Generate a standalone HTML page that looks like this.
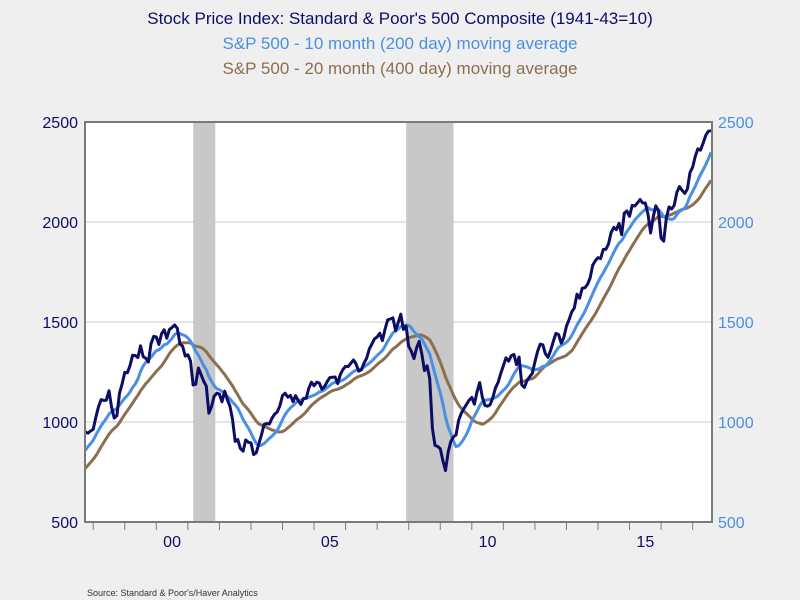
<!DOCTYPE html>
<html><head><meta charset="utf-8"><style>
body{margin:0;background:#efefef;}
svg{display:block;font-family:"Liberation Sans",sans-serif;}
</style></head><body>
<svg id="chart" width="800" height="600">
<rect width="800" height="600" fill="#efefef"/>
<text x="400" y="24" text-anchor="middle" font-size="17" fill="#0d0d66">Stock Price Index: Standard &amp; Poor's 500 Composite  (1941-43=10)</text>
<text x="400" y="49" text-anchor="middle" font-size="17" fill="#4a90e2">S&amp;P 500 - 10 month (200 day) moving average</text>
<text x="400" y="74" text-anchor="middle" font-size="17" fill="#8b6f4e">S&amp;P 500 - 20 month (400 day) moving average</text>
<rect x="85" y="122" width="627" height="400" fill="#fff"/>
<g id="rec"></g><g id="grid"></g><g id="lines"></g><g id="axes"></g>
<rect x="85" y="122" width="627" height="400" fill="none" stroke="#7a7a7a" stroke-width="2"/>
<text x="87" y="596" font-size="9" fill="#333">Source:  Standard &amp; Poor's/Haver Analytics</text>
</svg>
<script>
// monthly S&P 500 averages, starting Mar 1996 (first 19 months are history for the moving averages)
const startYear = 1996, startMonth = 2;
const prices = [646,647,661,669,640,652,674,702,738,744,
766,798,793,774,829,885,926,928,937,950,944,955,
963,1023,1076,1112,1108,1109,1156,1074,1020,1032,1144,1190,
1248,1246,1282,1334,1332,1322,1381,1327,1318,1300,1391,1428,
1425,1388,1442,1461,1419,1462,1473,1485,1468,1390,1379,1330,
1336,1305,1185,1189,1270,1238,1205,1179,1044,1077,1129,1144,
1140,1101,1154,1112,1080,1014,903,912,867,854,910,899,
895,837,846,890,936,988,992,990,1019,1039,1050,1081,
1132,1144,1124,1133,1102,1132,1106,1088,1118,1118,1169,1199,
1181,1199,1195,1164,1178,1202,1222,1224,1225,1192,1237,1263,
1278,1277,1294,1310,1290,1254,1261,1294,1318,1365,1390,1416,
1425,1444,1407,1463,1511,1515,1521,1457,1497,1539,1463,1479,
1378,1354,1317,1371,1403,1341,1257,1281,1217,968,883,878,
866,806,757,848,902,926,935,1010,1044,1067,1088,1110,
1123,1089,1152,1197,1125,1083,1079,1087,1122,1171,1198,1242,
1282,1321,1304,1331,1338,1287,1325,1185,1173,1207,1226,1243,
1300,1352,1389,1386,1341,1323,1359,1403,1443,1437,1394,1422,
1480,1512,1550,1570,1639,1619,1669,1671,1688,1720,1784,1807,
1822,1817,1863,1864,1890,1947,1973,1962,1993,1937,2044,2055,
2028,2083,2080,2095,2112,2095,2095,2039,1945,2025,2081,2054,
1919,1904,2022,2075,2065,2083,2149,2177,2158,2143,2165,2247,
2275,2329,2366,2359,2395,2434,2454,2456];
const plotStart = 19;
const yTicks = [500,1000,1500,2000,2500];
const gridVals = [1000,1500,2000];
const yearLabels = ["00","05","10","15"];
const yearLabelYears = [2000,2005,2010,2015];
const recessions = [[2001.17,2001.87],[2007.92,2009.42]];

const NS="http://www.w3.org/2000/svg";
const X=t=>156.3+(t-2000)*31.55;
const Y=v=>522-(v-500)/2000*400;
function mk(tag,attrs,parent,text){const e=document.createElementNS(NS,tag);for(const k in attrs)e.setAttribute(k,attrs[k]);if(text!==undefined)e.textContent=text;document.getElementById(parent).appendChild(e);return e;}
const tOf=i=>startYear+(startMonth+i)/12;

recessions.forEach(r=>{
 const e=mk('rect',{x:X(r[0]),y:122,width:X(r[1])-X(r[0]),height:400,fill:'#c8c8c8'},'rec');
 
 
});
gridVals.forEach(v=>{
 const e=mk('line',{x1:85,x2:712,y1:Y(v),y2:Y(v),stroke:'#c8c8c8','stroke-width':1},'grid');
 
 
});
function ma(n,i){let s=0;for(let k=i-n+1;k<=i;k++)s+=prices[k];return s/n;}
function path(fn,color,name,w){
 let d='';for(let i=plotStart;i<prices.length;i++){d+=(i===plotStart?'M':'L')+X(tOf(i)).toFixed(1)+','+Y(fn(i)).toFixed(1);}
 const e=mk('path',{d:d,fill:'none',stroke:color,'stroke-width':w,'stroke-linejoin':'round'},'lines');
 
 
}
path(i=>ma(20,i),'#8b6f4e','line-20-month-ma',3);
path(i=>ma(10,i),'#4a90e2','line-10-month-ma',3);
path(i=>prices[i],'#0d0d66','line-sp500',3);

yTicks.forEach(v=>{
 const a=mk('text',{x:78,y:Y(v)+6,'text-anchor':'end','font-size':16,fill:'#0d0d66'},'axes',v);
 
 
 const b=mk('text',{x:718,y:Y(v)+6,'font-size':16,fill:'#4a90e2'},'axes',v);
 
 
});
for(let yr=1998;yr<=2017;yr++){
 const e=mk('line',{x1:X(yr),x2:X(yr),y1:522,y2:530,stroke:'#7a7a7a','stroke-width':1},'axes');
 
 
}
yearLabels.forEach((l,i)=>{
 const e=mk('text',{x:X(yearLabelYears[i]+0.5),y:547,'text-anchor':'middle','font-size':16,fill:'#0d0d66'},'axes',l);
 
 
});
</script>
</body></html>
